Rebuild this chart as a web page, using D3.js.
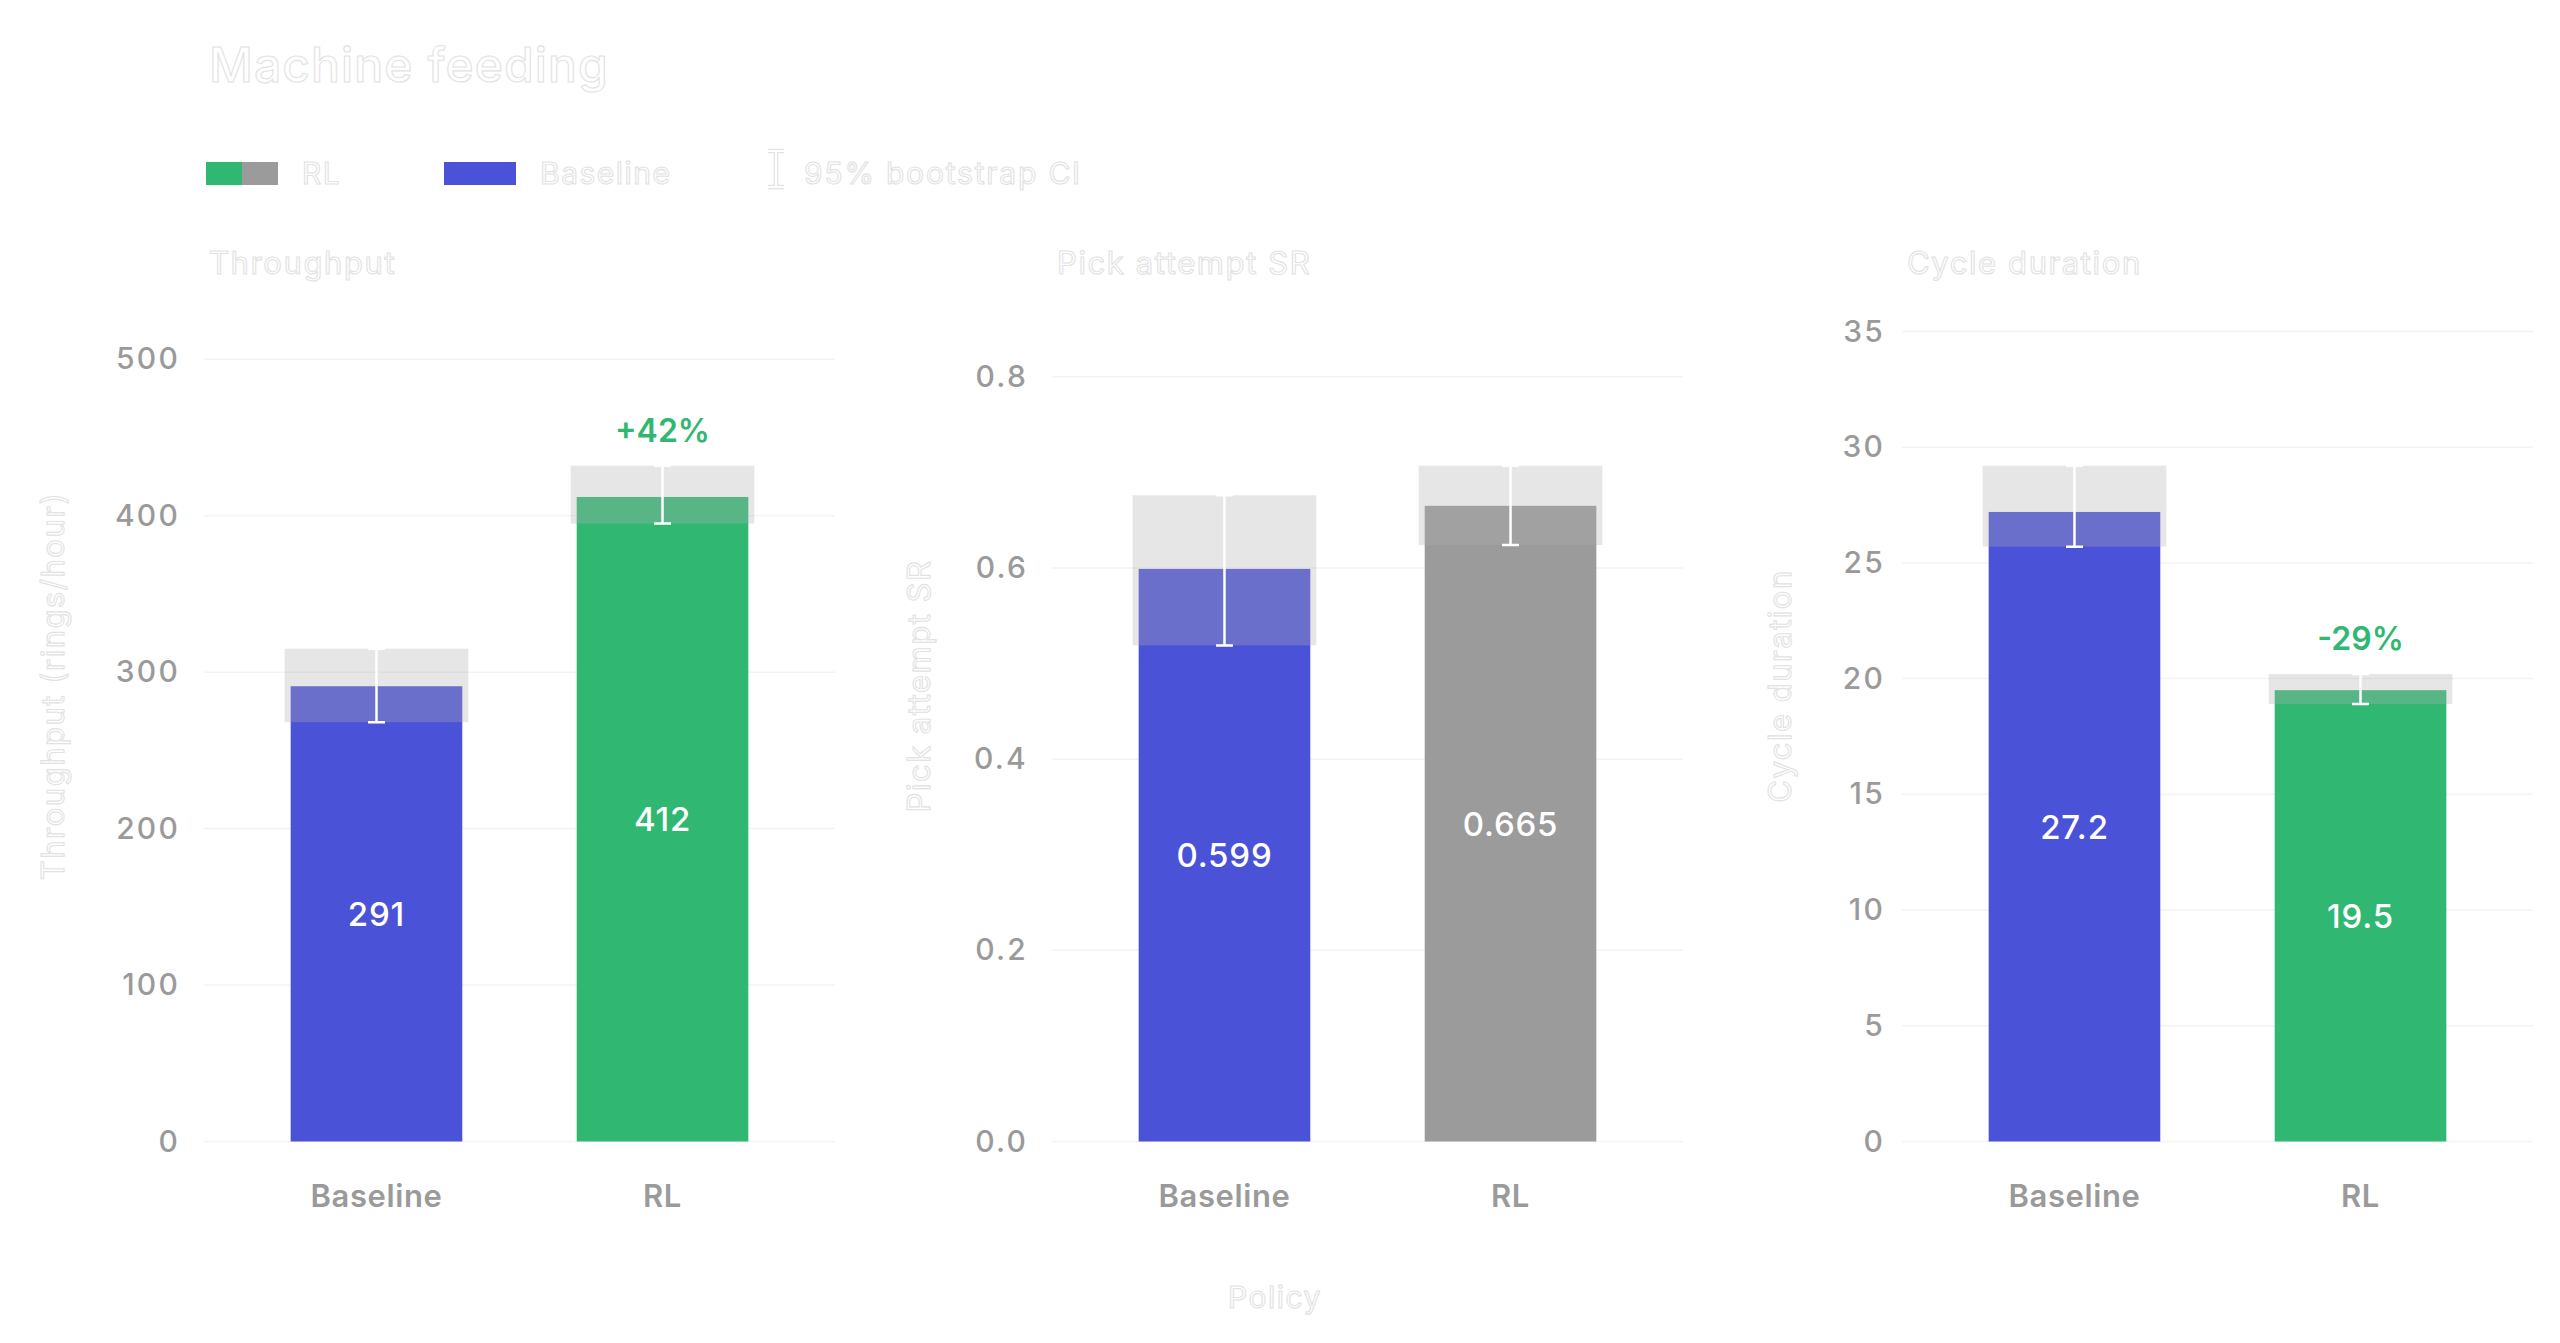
<!DOCTYPE html>
<html>
<head>
<meta charset="utf-8">
<script src="https://cdn.jsdelivr.net/npm/d3@7"></script>
<style>
  html, body { margin: 0; padding: 0; background: #ffffff; }
  svg { display: block; font-family: Inter, "Noto Sans", sans-serif; }
</style>
</head>
<body>
<svg id="chart" width="2560" height="1343"></svg>
<script>
// ---------------- data ----------------
const chartTitle = "Machine feeding";
const categories = ["Baseline", "RL"];
const panelTitles = ["Throughput", "Pick attempt SR", "Cycle duration"];
const yAxisTitles = ["Throughput (rings/hour)", "Pick attempt SR", "Cycle duration"];
const xAxisTitle = "Policy";

const throughputValues = [291, 412];
const throughputCILow = [268, 395];
const throughputCIHigh = [315, 432];

const pickSRValues = [0.599, 0.665];
const pickSRCILow = [0.519, 0.624];
const pickSRCIHigh = [0.676, 0.707];

const cycleValues = [27.2, 19.5];
const cycleCILow = [25.7, 18.9];
const cycleCIHigh = [29.2, 20.2];

const throughputTicks = [0, 100, 200, 300, 400, 500];
const pickSRTicks = [0, 0.2, 0.4, 0.6, 0.8];
const cycleTicks = [0, 5, 10, 15, 20, 25, 30, 35];

const throughputTickFormat = "d";
const pickSRTickFormat = ".1f";
const cycleTickFormat = "d";

const throughputValueFormat = "d";
const pickSRValueFormat = ".3f";
const cycleValueFormat = ".1f";

const changeLabels = ["+42%", "", "-29%"];     // shown above RL bar when significant
const rlSignificant = [true, false, true];

const legendLabels = ["RL", "Baseline", "95% bootstrap CI"];

// ---------------- style ----------------
const COLORS = {
  baseline: "#4a52d8",
  rlGood: "#30b873",
  rlNeutral: "#9b9b9b",
  ciBox: "rgb(176,176,176)",
  tick: "#9a9a9a",
  grid: "#f3f3f3",
  ghostFill: "#ffffff",
  ghostStroke: "#e2e2e2"
};

const panels = [
  { values: throughputValues, lo: throughputCILow, hi: throughputCIHigh, ticks: throughputTicks, tf: throughputTickFormat, vf: throughputValueFormat },
  { values: pickSRValues, lo: pickSRCILow, hi: pickSRCIHigh, ticks: pickSRTicks, tf: pickSRTickFormat, vf: pickSRValueFormat },
  { values: cycleValues, lo: cycleCILow, hi: cycleCIHigh, ticks: cycleTicks, tf: cycleTickFormat, vf: cycleValueFormat }
];

// layout
const panelLeft = [204, 1052, 1902];
const panelWidth = 631;
const tickPad = [24, 24, 17];
const plotBottom = 1141.5;
const plotTop = 330.5;
const yTitleX = [64, 930, 1791];
const yTitleY = 686;
const panelTitleY = 274;
const catLabelY = 1207;
const headroom = 1.2;

const svg = d3.select("#chart");

function ghostText(sel, ls) {
  return sel.attr("fill", COLORS.ghostFill)
    .attr("stroke", COLORS.ghostStroke)
    .attr("stroke-width", 1.1)
    .attr("letter-spacing", ls == null ? 1.5 : ls);
}

// title
ghostText(svg.append("text")
  .attr("x", 209).attr("y", 82)
  .attr("font-size", 48).attr("font-weight", 500)
  .text(chartTitle), 1.1);

// legend
const lg = svg.append("g");
lg.append("rect").attr("x", 206).attr("y", 162).attr("width", 36).attr("height", 23).attr("fill", COLORS.rlGood);
lg.append("rect").attr("x", 242).attr("y", 162).attr("width", 36).attr("height", 23).attr("fill", COLORS.rlNeutral);
ghostText(lg.append("text").attr("x", 302).attr("y", 184).attr("font-size", 30).text(legendLabels[0]));
lg.append("rect").attr("x", 444).attr("y", 162).attr("width", 72).attr("height", 23).attr("fill", COLORS.baseline);
ghostText(lg.append("text").attr("x", 540).attr("y", 184).attr("font-size", 30).text(legendLabels[1]));
const iconPath = "M768,151 H784 M776,151 V187 M768,187 H784";
lg.append("path").attr("d", iconPath).attr("stroke", COLORS.ghostStroke).attr("stroke-width", 4.5).attr("fill", "none");
lg.append("path").attr("d", iconPath).attr("stroke", "#ffffff").attr("stroke-width", 2.2).attr("fill", "none");
ghostText(lg.append("text").attr("x", 804).attr("y", 184).attr("font-size", 30).text(legendLabels[2]), 1.8);

// panels
panels.forEach((p, i) => {
  const g = svg.append("g").attr("transform", `translate(${panelLeft[i]},0)`);
  const domainMax = d3.max(p.hi) * headroom;
  const y = d3.scaleLinear().domain([0, domainMax]).range([plotBottom, plotTop]);
  const x = d3.scaleBand().domain(categories).range([0, panelWidth]).paddingInner(0.4).paddingOuter(0.303).align(0.5);

  // gridlines
  g.append("g").selectAll("line").data(p.ticks).join("line")
    .attr("x1", 0).attr("x2", panelWidth)
    .attr("y1", d => y(d)).attr("y2", d => y(d))
    .attr("stroke", COLORS.grid).attr("stroke-width", 1.5);

  // axis tick labels
  const axis = d3.axisLeft(y).tickValues(p.ticks).tickFormat(d3.format(p.tf)).tickSize(0).tickPadding(tickPad[i]);
  const ag = g.append("g").call(axis);
  ag.select(".domain").remove();
  ag.selectAll("text").attr("fill", COLORS.tick).attr("font-size", 30).attr("font-family", "Inter, sans-serif")
    .attr("font-weight", 500).attr("letter-spacing", 2.2);

  // category labels
  const xa = d3.axisBottom(x).tickSize(0).tickPadding(0);
  const xg = g.append("g").attr("transform", `translate(0,${catLabelY})`).call(xa);
  xg.select(".domain").remove();
  xg.selectAll("text").attr("fill", COLORS.tick).attr("font-size", 31).attr("font-family", "Inter, sans-serif")
    .attr("font-weight", 600).attr("dy", 0).attr("letter-spacing", 0.6);

  const colorFor = (c) => c === "Baseline" ? COLORS.baseline : (rlSignificant[i] ? COLORS.rlGood : COLORS.rlNeutral);
  const rows = categories.map((c, j) => ({ c, v: p.values[j], lo: p.lo[j], hi: p.hi[j] }));

  // bars
  g.append("g").selectAll("rect").data(rows).join("rect")
    .attr("x", d => x(d.c)).attr("width", x.bandwidth())
    .attr("y", d => y(d.v)).attr("height", d => y(0) - y(d.v))
    .attr("fill", d => colorFor(d.c));

  // CI boxes
  const pad = 6;
  g.append("g").selectAll("rect").data(rows).join("rect")
    .attr("x", d => x(d.c) - pad).attr("width", x.bandwidth() + 2 * pad)
    .attr("y", d => y(d.hi)).attr("height", d => y(d.lo) - y(d.hi))
    .attr("fill", COLORS.ciBox).attr("fill-opacity", 0.315);

  // error bars
  const cap = 8.5;
  const eb = g.append("g").attr("stroke", "#ffffff").attr("stroke-width", 2.5).attr("fill", "none");
  eb.selectAll("path").data(rows).join("path")
    .attr("d", d => {
      const cx = x(d.c) + x.bandwidth() / 2;
      return `M${cx - cap},${y(d.hi)}H${cx + cap}M${cx},${y(d.hi)}V${y(d.lo)}M${cx - cap},${y(d.lo)}H${cx + cap}`;
    });

  // value labels
  g.append("g").selectAll("text").data(rows).join("text")
    .attr("x", d => x(d.c) + x.bandwidth() / 2)
    .attr("y", d => (y(d.v) + y(0)) / 2)
    .attr("dy", "0.36em")
    .attr("text-anchor", "middle")
    .attr("fill", "#ffffff").attr("font-size", 33).attr("font-weight", 500).attr("letter-spacing", 0.8)
    .text(d => d3.format(p.vf)(d.v));

  // change label
  if (rlSignificant[i] && changeLabels[i]) {
    const rl = rows[1];
    g.append("text")
      .attr("x", x(rl.c) + x.bandwidth() / 2)
      .attr("y", y(rl.hi) - 24)
      .attr("text-anchor", "middle")
      .attr("fill", COLORS.rlGood).attr("font-size", 32).attr("font-weight", 600)
      .text(changeLabels[i]);
  }

  // panel title
  ghostText(g.append("text").attr("x", 5).attr("y", panelTitleY).attr("font-size", 31).text(panelTitles[i]), 1.6);

  // y-axis title
  ghostText(svg.append("text")
    .attr("transform", `translate(${yTitleX[i]},${yTitleY}) rotate(-90)`)
    .attr("text-anchor", "middle")
    .attr("font-size", 31)
    .text(yAxisTitles[i]), 1.5);
});

// x-axis title
ghostText(svg.append("text").attr("x", 1275).attr("y", 1308).attr("text-anchor", "middle").attr("font-size", 30).text(xAxisTitle));
</script>
</body>
</html>
